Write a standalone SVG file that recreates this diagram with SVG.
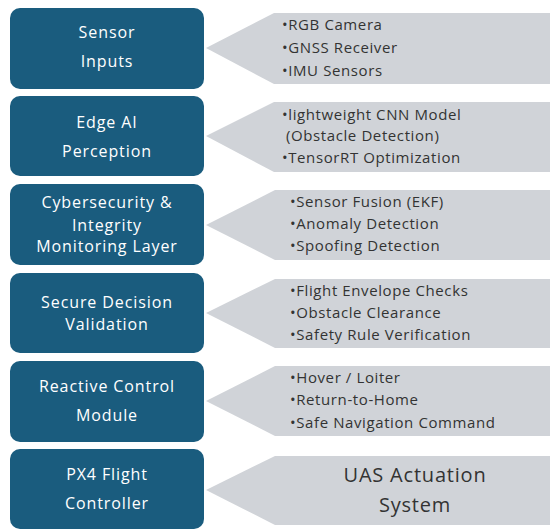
<svg xmlns="http://www.w3.org/2000/svg" width="550" height="529" viewBox="0 0 550 529">
  <style>
    .box { fill: #1A5C7E; }
    .callout { fill: #D0D3D8; }
    .lbl { font-family: "Open Sans", "Liberation Sans", sans-serif; font-size: 16px; letter-spacing: 0.9px; fill: #FFFFFF; text-anchor: middle; }
    .item { font-family: "Open Sans", "Liberation Sans", sans-serif; font-size: 15px; letter-spacing: 0.6px; fill: #333333; }
    .big { font-family: "Open Sans", "Liberation Sans", sans-serif; font-size: 20px; letter-spacing: 0.8px; fill: #333333; text-anchor: middle; }
  </style>
  <rect width="550" height="529" fill="#FFFFFF"/>

  <!-- Row 1: sensor inputs -->
  <g id="sensor-inputs">
    <rect class="box" x="10" y="8" width="194" height="81" rx="10"/>
    <text class="lbl" x="107" y="38">Sensor</text>
    <text class="lbl" x="107" y="67">Inputs</text>
  </g>
  <g id="sensor-list">
    <polygon class="callout" points="206,48 274,13 550,13 550,84 274,84"/>
    <text class="item" x="282" y="30">•RGB Camera</text>
    <text class="item" x="282" y="53">•GNSS Receiver</text>
    <text class="item" x="282" y="76">•IMU Sensors</text>
  </g>

  <!-- Row 2: perception -->
  <g id="edge-ai">
    <rect class="box" x="10" y="96" width="194" height="80" rx="10"/>
    <text class="lbl" x="107" y="128">Edge AI</text>
    <text class="lbl" x="107" y="157">Perception</text>
  </g>
  <g id="perception-list">
    <polygon class="callout" points="206,136 274,102 550,102 550,172 274,172"/>
    <text class="item" x="282" y="120">•lightweight CNN Model</text>
    <text class="item" x="286" y="141">(Obstacle Detection)</text>
    <text class="item" x="282" y="163">•TensorRT Optimization</text>
  </g>

  <!-- Row 3: cybersecurity -->
  <g id="cybersecurity">
    <rect class="box" x="10" y="184" width="194" height="81" rx="10"/>
    <text class="lbl" x="107" y="208">Cybersecurity &amp;</text>
    <text class="lbl" x="107" y="231">Integrity</text>
    <text class="lbl" x="107" y="252">Monitoring Layer</text>
  </g>
  <g id="integrity-list">
    <polygon class="callout" points="206,225 275,190 550,190 550,260 275,260"/>
    <text class="item" x="290" y="207">•Sensor Fusion (EKF)</text>
    <text class="item" x="290" y="229">•Anomaly Detection</text>
    <text class="item" x="290" y="251">•Spoofing Detection</text>
  </g>

  <!-- Row 4: decision validation -->
  <g id="decision-validation">
    <rect class="box" x="10" y="273" width="194" height="80" rx="10"/>
    <text class="lbl" x="107" y="308">Secure Decision</text>
    <text class="lbl" x="107" y="330">Validation</text>
  </g>
  <g id="validation-list">
    <polygon class="callout" points="206,313 275,279 550,279 550,348 275,348"/>
    <text class="item" x="290" y="296">•Flight Envelope Checks</text>
    <text class="item" x="290" y="318">•Obstacle Clearance</text>
    <text class="item" x="290" y="340">•Safety Rule Verification</text>
  </g>

  <!-- Row 5: reactive control -->
  <g id="reactive-control">
    <rect class="box" x="10" y="361" width="194" height="81" rx="10"/>
    <text class="lbl" x="107" y="392">Reactive Control</text>
    <text class="lbl" x="107" y="421">Module</text>
  </g>
  <g id="control-list">
    <polygon class="callout" points="206,401 275,366 550,366 550,436 275,436"/>
    <text class="item" x="290" y="383">•Hover / Loiter</text>
    <text class="item" x="290" y="405">•Return-to-Home</text>
    <text class="item" x="290" y="428">•Safe Navigation Command</text>
  </g>

  <!-- Row 6: flight controller -->
  <g id="px4-controller">
    <rect class="box" x="10" y="449" width="194" height="80" rx="10"/>
    <text class="lbl" x="107" y="480">PX4 Flight</text>
    <text class="lbl" x="107" y="509">Controller</text>
  </g>
  <g id="uas-actuation">
    <polygon class="callout" points="206,490 275,456 550,456 550,525 275,525"/>
    <text class="big" x="415" y="482">UAS Actuation</text>
    <text class="big" x="415" y="512">System</text>
  </g>
</svg>
